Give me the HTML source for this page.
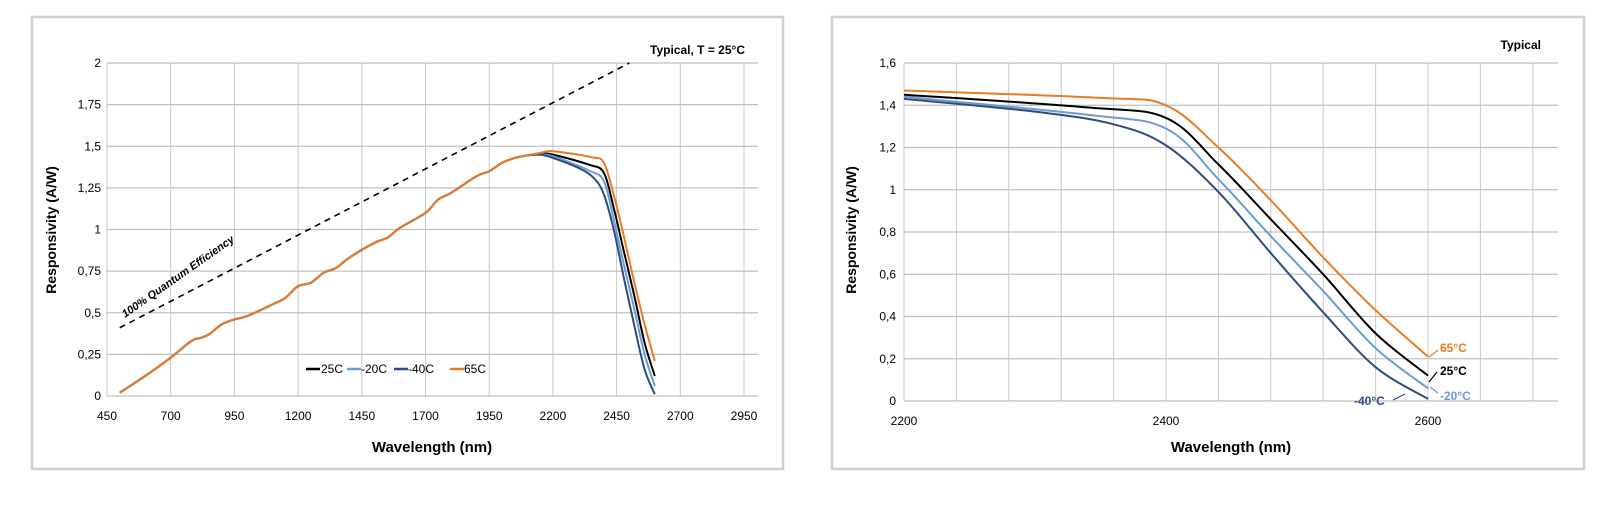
<!DOCTYPE html>
<html><head><meta charset="utf-8"><style>
body{margin:0;background:#fff;width:1615px;height:501px;overflow:hidden}
svg text{font-family:"Liberation Sans",sans-serif}
</style></head><body>
<svg id="s" width="1615" height="501" xmlns="http://www.w3.org/2000/svg">
<rect x="32" y="17" width="751" height="452" fill="#fff" stroke="#d0d0d0" stroke-width="2.5"/>
<rect x="832" y="17" width="752" height="452" fill="#fff" stroke="#d0d0d0" stroke-width="2.5"/>
<g id="L"></g><g id="R"></g>
<text x="745" y="54" font-size="12" font-weight="bold" text-anchor="end">Typical, T = 25°C</text>
<text x="1541" y="49" font-size="12" font-weight="bold" text-anchor="end">Typical</text>
<text x="432" y="452" font-size="15" font-weight="bold" text-anchor="middle">Wavelength (nm)</text>
<text x="1231" y="452" font-size="15" font-weight="bold" text-anchor="middle">Wavelength (nm)</text>
<text transform="translate(56,230) rotate(-90)" font-size="14" font-weight="bold" text-anchor="middle">Responsivity (A/W)</text>
<text transform="translate(856,230) rotate(-90)" font-size="14" font-weight="bold" text-anchor="middle">Responsivity (A/W)</text>
<text transform="translate(125,318) rotate(-35)" font-size="11" font-weight="bold" font-style="italic">100% Quantum Efficiency</text>
<g font-size="12">
<line x1="306" y1="369" x2="320" y2="369" stroke="#000" stroke-width="2.5"/><text x="321" y="373">25C</text>
<line x1="347" y1="369" x2="361" y2="369" stroke="#6a9bd6" stroke-width="2.5"/><text x="361" y="373">-20C</text>
<line x1="394" y1="369" x2="408" y2="369" stroke="#2e4d7b" stroke-width="2.5"/><text x="408" y="373">-40C</text>
<line x1="450" y1="369" x2="464" y2="369" stroke="#e97b25" stroke-width="2.5"/><text x="464" y="373">65C</text>
</g>
<g font-size="12" font-weight="bold">
<text x="1440" y="352" fill="#e97b25">65°C</text>
<text x="1440" y="375">25°C</text>
<text x="1440" y="400" fill="#6a9bd6">-20°C</text>
<text x="1354" y="405" fill="#2e4d7b">-40°C</text>
</g>
<g stroke="#000" stroke-width="1.2">
<line x1="1429" y1="357" x2="1438" y2="350" stroke="#e97b25"/>
<line x1="1429" y1="382" x2="1437" y2="372"/>
<line x1="1430" y1="387" x2="1438" y2="393" stroke="#6a9bd6"/>
<line x1="1393" y1="400" x2="1405" y2="394" stroke="#2e4d7b"/>
</g>
</svg>
<script>
const NS="http://www.w3.org/2000/svg";
function el(p,t,a,txt){const e=document.createElementNS(NS,t);for(const k in a)e.setAttribute(k,a[k]);if(txt!==undefined)e.textContent=txt;p.appendChild(e);return e;}
function path(pts){let d="M"+pts[0][0]+","+pts[0][1];for(let i=0;i<pts.length-1;i++){const p0=pts[i-1]||pts[i],p1=pts[i],p2=pts[i+1],p3=pts[i+2]||p2;const c1=[p1[0]+(p2[0]-p0[0])/6,p1[1]+(p2[1]-p0[1])/6],c2=[p2[0]-(p3[0]-p1[0])/6,p2[1]-(p3[1]-p1[1])/6];d+=" C"+c1.map(v=>v.toFixed(1))+" "+c2.map(v=>v.toFixed(1))+" "+p2;}return d;}
const L=document.getElementById("L");
const lx=n=>107+(n-450)*0.2548, ly=v=>396-v*166.5;
for(let n=450;n<=2950;n+=250){el(L,"line",{x1:lx(n),y1:63,x2:lx(n),y2:396,stroke:"#c8c8c8","stroke-width":1});el(L,"text",{x:lx(n),y:420,"font-size":12,"text-anchor":"middle"},n);}
for(let v=0;v<=2;v+=0.25){el(L,"line",{x1:107,y1:ly(v),x2:758,y2:ly(v),stroke:"#c0c0c0","stroke-width":1.2});el(L,"text",{x:101,y:ly(v)+4,"font-size":12,"text-anchor":"end"},String(v).replace(".",","));}
el(L,"line",{x1:lx(500),y1:ly(0.41),x2:lx(2500),y2:ly(2),stroke:"#000","stroke-width":1.6,"stroke-dasharray":"6,5"});
const base=[[500,.02],[600,.12],[700,.23],[780,.33],[820,.35],[850,.37],[900,.43],[950,.46],[1000,.48],[1100,.55],[1150,.59],[1200,.66],[1250,.68],[1300,.74],[1350,.77],[1400,.83],[1500,.92],[1550,.95],[1600,1.01],[1700,1.1],[1750,1.18],[1800,1.22],[1900,1.32],[1950,1.35],[2000,1.4],[2050,1.43],[2100,1.445]];
const tails={
k:[[2200,1.45],[2340,1.39],[2400,1.34],[2440,1.12],[2480,.86],[2520,.6],[2560,.32],[2600,.12]],
lb:[[2200,1.44],[2340,1.355],[2400,1.29],[2440,1.05],[2480,.78],[2520,.52],[2560,.25],[2600,.06]],
db:[[2200,1.43],[2300,1.37],[2360,1.31],[2400,1.21],[2440,.99],[2480,.7],[2520,.42],[2560,.16],[2600,.01]],
o:[[2200,1.47],[2350,1.435],[2400,1.4],[2440,1.2],[2480,.95],[2520,.68],[2560,.43],[2600,.21]]};
const col={k:"#000",lb:"#6a9bd6",db:"#2e4d7b",o:"#e97b25"};
const startPre={k:[[2150,1.455]],lb:[[2150,1.45]],db:[[2150,1.45]],o:[[2150,1.46]]};
for(const s of ["k","lb","db","o"]){const pts=base.concat(startPre[s],tails[s]).map(p=>[Number(lx(p[0]).toFixed(1)),Number(ly(p[1]).toFixed(1))]);el(L,"path",{d:path(pts),fill:"none",stroke:col[s],"stroke-width":2});}
const R=document.getElementById("R");
const rx=n=>904+(n-2200)*1.31, ry=v=>401-v*211.25;
for(let n=2200;n<=2680;n+=40){el(R,"line",{x1:rx(n),y1:63,x2:rx(n),y2:401,stroke:"#c8c8c8","stroke-width":1});}
for(const n of [2200,2400,2600])el(R,"text",{x:rx(n),y:425,"font-size":12,"text-anchor":"middle"},n);
for(let i=0;i<=8;i++){const v=i*0.2;el(R,"line",{x1:904,y1:ry(v),x2:1558,y2:ry(v),stroke:"#c0c0c0","stroke-width":1.2});el(R,"text",{x:896,y:ry(v)+4,"font-size":12,"text-anchor":"end"},i==0?"0":i==5?"1":v.toFixed(1).replace(".",","));}
for(const s of ["db","lb","k","o"]){const pts=tails[s].map(p=>[Number(rx(p[0]).toFixed(1)),Number(ry(p[1]).toFixed(1))]);el(R,"path",{d:path(pts),fill:"none",stroke:col[s],"stroke-width":2});}
</script>
</body></html>
